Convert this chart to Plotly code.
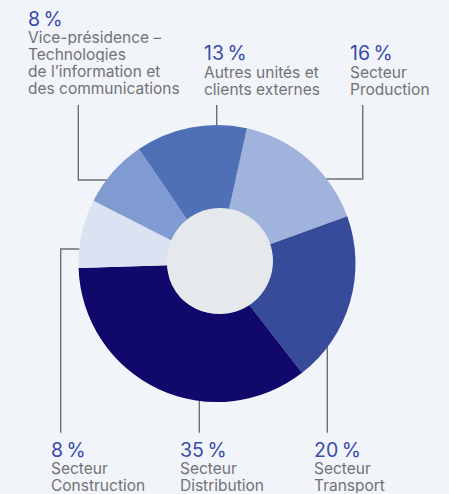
import plotly.graph_objects as go

# slices, in drawing order (clockwise from the top)
names = ["Secteur<br>Production", "Secteur<br>Transport", "Secteur<br>Distribution",
         "Secteur<br>Construction",
         "Vice-présidence –<br>Technologies<br>de l’information et<br>des communications",
         "Autres unités et<br>clients externes"]
shares = [16, 20, 35, 8, 8, 13]
pct_text = ["16\u202f%", "20\u202f%", "35\u202f%", "8\u202f%", "8\u202f%", "13\u202f%"]
colors = ["#a0b3dc", "#364c9b", "#10086a", "#dbe2f1", "#7f9bd1", "#4f6fb6"]

W, H = 449, 494
BG = "#f1f4f9"
PCT_COL = "#3a4ca6"
TXT_COL = "#717376"
FONT = "Inter"

# where each label block sits (left x, baseline of the percent) in px
text_pos = [(349, 60), (312.5, 456.7), (179, 456.7), (50, 456.7), (26.7, 25.7), (203.3, 60)]
# leader lines, dot first
leaders = [
    [(309, 179), (362.7, 179), (362.7, 105)],
    [(327.3, 291.7), (327.3, 432.7)],
    [(199.3, 363.3), (199.3, 432.7)],
    [(121.7, 249), (60.7, 249), (60.7, 432.7)],
    [(121.7, 180), (78.3, 180), (78.3, 105)],
    [(216.7, 179), (216.7, 105)],
]

cx, cy, r = 217, 263.5, 138.5

fig = go.Figure()
fig.add_trace(go.Pie(
    labels=[n.replace("<br>", " ") for n in names], values=shares,
    sort=False, direction="clockwise", rotation=12.5,
    hole=0.36, marker=dict(colors=colors, line=dict(width=0)),
    textinfo="none", hoverinfo="label+percent", showlegend=False,
    domain=dict(x=[(cx - r) / W, (cx + r) / W],
                y=[(H - cy - r) / H, (H - cy + r) / H]),
))

line_col = "rgba(45,47,58,0.68)"
dot_col = "rgba(28,30,44,0.8)"
for path in leaders:
    fig.add_trace(go.Scatter(x=[p[0] for p in path], y=[p[1] for p in path],
                             mode="lines", line=dict(color=line_col, width=1.4),
                             hoverinfo="skip", showlegend=False))
fig.add_trace(go.Scatter(x=[p[0][0] for p in leaders], y=[p[0][1] for p in leaders],
                         mode="markers", marker=dict(color=dot_col, size=6),
                         hoverinfo="skip", showlegend=False))

annots = []
for (x0, base), pct, name in zip(text_pos, pct_text, names):
    annots.append(dict(x=x0 - 1, y=base - 6.8, text=pct, showarrow=False,
                       xanchor="left", yanchor="middle", height=20,
                       font=dict(family=FONT, size=19.5, color=PCT_COL)))
    for i, line in enumerate(name.split("<br>")):
        annots.append(dict(x=x0 - 1, y=base + 17 * (i + 1) - 5.4, text=line, showarrow=False,
                           xanchor="left", yanchor="middle", height=16,
                           font=dict(family=FONT, size=15.5, color=TXT_COL)))

fig.update_layout(
    width=W, height=H, margin=dict(l=0, r=0, t=0, b=0),
    paper_bgcolor=BG, plot_bgcolor="rgba(0,0,0,0)",
    xaxis=dict(range=[0, W], visible=False, fixedrange=True),
    yaxis=dict(range=[H, 0], visible=False, fixedrange=True),
    shapes=[dict(type="circle", xref="x", yref="y", layer="above",
                 x0=220 - 53, x1=220 + 53, y0=261 - 53, y1=261 + 53,
                 fillcolor="#e5e9ec", line=dict(width=0))],
    annotations=annots,
)

# the page body has a default margin; drop it so the figure fills the window
fig.write_html("out.html", config={"displayModeBar": False},
               post_script="document.body.style.margin='0';")
